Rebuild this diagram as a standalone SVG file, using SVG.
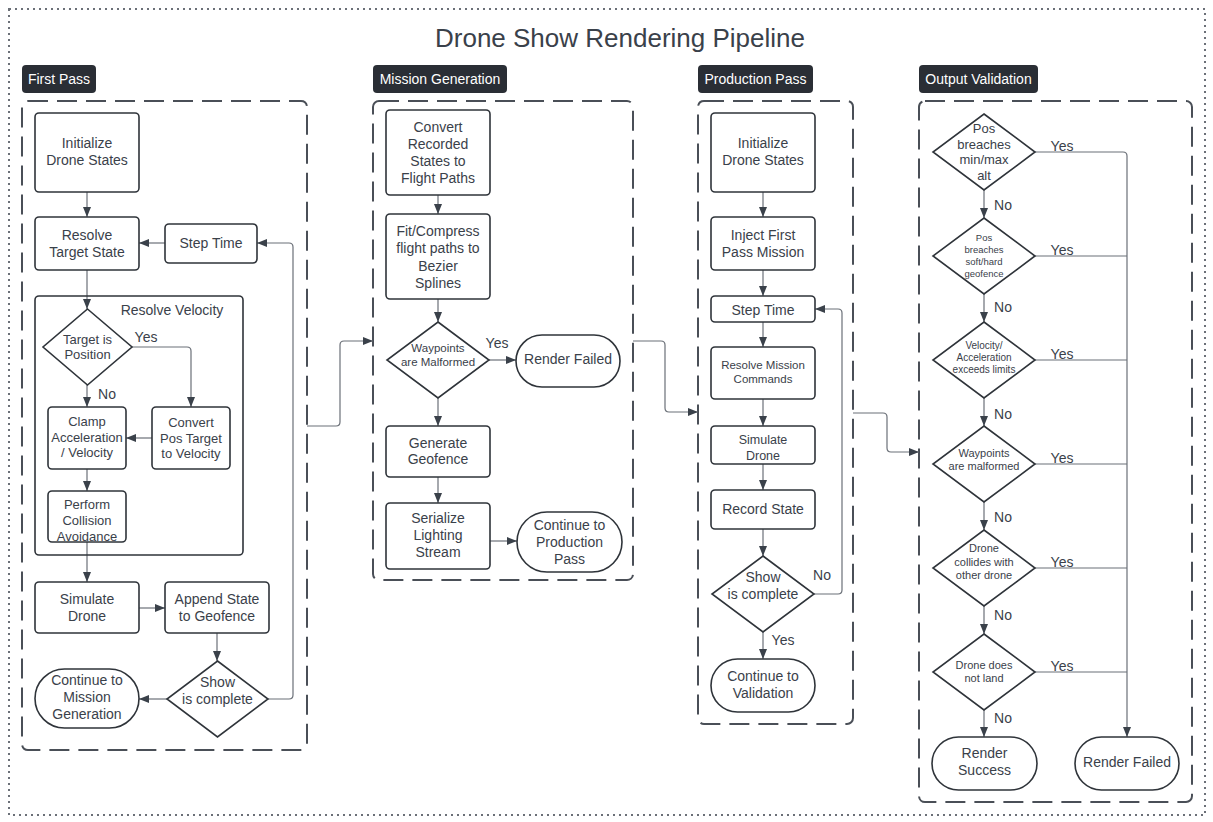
<svg xmlns="http://www.w3.org/2000/svg" width="1213" height="822" viewBox="0 0 1213 822">
<defs>
<marker id="arr" markerUnits="userSpaceOnUse" markerWidth="10" markerHeight="8" refX="10" refY="4" orient="auto">
<path d="M0,0 L10,4 L0,8 z" fill="#3a414a"/>
</marker>
<style>
text{font-family:"Liberation Sans",Arial,sans-serif;fill:#3a414a;text-anchor:middle;font-size:14px}
.n rect,.n polygon{fill:#fff;stroke:#2f343a;stroke-width:1.6}
.grp{fill:none;stroke:#4a4f57;stroke-width:2;stroke-dasharray:20 9}
.lbl rect{fill:#2a2e35}
.lbl text{fill:#fff;font-size:14px}
.c path{fill:none;stroke:#6b7078;stroke-width:1.2}
.c path.a{marker-end:url(#arr)}
.s13{font-size:13px}.s12{font-size:12.5px}.s11{font-size:11.5px}.s10{font-size:10px}.s9{font-size:9.5px}.s11b{font-size:11px}
</style>
</defs>
<rect width="1213" height="822" fill="#fff"/>
<rect x="9" y="9" width="1196" height="806" fill="none" stroke="#6b7078" stroke-width="2" stroke-dasharray="2 4"/>
<text x="620" y="47" style="font-size:26px">Drone Show Rendering Pipeline</text>

<!-- section labels -->
<g class="lbl" id="lbl-first"><rect x="22" y="65" width="74" height="28" rx="4"/><text x="59" y="84">First Pass</text></g>
<g class="lbl" id="lbl-mission"><rect x="373" y="65" width="134" height="28" rx="4"/><text x="440" y="84">Mission Generation</text></g>
<g class="lbl" id="lbl-production"><rect x="698" y="65" width="115" height="28" rx="4"/><text x="755.5" y="84">Production Pass</text></g>
<g class="lbl" id="lbl-output"><rect x="919" y="65" width="119" height="28" rx="4"/><text x="978.5" y="84">Output Validation</text></g>

<!-- containers -->
<rect id="grp-first" class="grp" x="22" y="101" width="285" height="649" rx="6"/>
<rect id="grp-mission" class="grp" x="373" y="101" width="260" height="479" rx="6"/>
<rect id="grp-production" class="grp" x="698" y="101" width="155" height="623" rx="6"/>
<rect id="grp-output" class="grp" x="919" y="101" width="273" height="701" rx="6"/>

<!-- connectors -->
<g class="c" id="connectors">
<path class="a" d="M87,192 V217"/>
<path class="a" d="M87,270 V309"/>
<path class="a" d="M165,243 H139"/>
<path class="a" d="M132,347 H187 Q191,347 191,351 V407"/>
<path class="a" d="M87,385 V407"/>
<path class="a" d="M152,438 H126"/>
<path class="a" d="M87,469 V491"/>
<path class="a" d="M87,542 V582"/>
<path class="a" d="M139,608 H165"/>
<path class="a" d="M217,633 V661"/>
<path class="a" d="M167,699 H139"/>
<path class="a" d="M268,699 H289 Q293,699 293,695 V247 Q293,243 289,243 H257"/>
<path class="a" d="M307,426 H336 Q340,426 340,422 V345 Q340,341 344,341 H373"/>

<path class="a" d="M438,195 V214"/>
<path class="a" d="M438,299 V322"/>
<path class="a" d="M489,360 H516"/>
<path class="a" d="M438,398 V426"/>
<path class="a" d="M438,477 V503"/>
<path class="a" d="M490,541 H517"/>
<path class="a" d="M633,341 H661 Q665,341 665,345 V408 Q665,412 669,412 H698"/>

<path class="a" d="M763,192 V217"/>
<path class="a" d="M763,270 V296"/>
<path class="a" d="M763,322 V347"/>
<path class="a" d="M763,399 V426"/>
<path class="a" d="M763,464 V490"/>
<path class="a" d="M763,529 V556"/>
<path class="a" d="M763,632 V659"/>
<path class="a" d="M814,594 H838 Q842,594 842,590 V313 Q842,309 838,309 H815"/>
<path class="a" d="M853,413 H883 Q887,413 887,417 V448 Q887,452 891,452 H919"/>

<path class="a" d="M984,190 V218"/>
<path class="a" d="M984,294 V322"/>
<path class="a" d="M984,398 V426"/>
<path class="a" d="M984,502 V530"/>
<path class="a" d="M984,606 V634"/>
<path class="a" d="M984,710 V737"/>
<path class="a" d="M1035,152 H1123 Q1127,152 1127,156 V737"/>
<path d="M1035,256 H1127"/>
<path d="M1035,360 H1127"/>
<path d="M1035,464 H1127"/>
<path d="M1035,568 H1127"/>
<path d="M1035,672 H1127"/>
</g>

<!-- connector labels -->
<g id="edge-labels">
<text x="146" y="342">Yes</text>
<text x="107" y="399">No</text>
<text x="497" y="348">Yes</text>
<text x="822" y="580">No</text>
<text x="783" y="645">Yes</text>
<text x="1003" y="210">No</text>
<text x="1003" y="312">No</text>
<text x="1003" y="419">No</text>
<text x="1003" y="522">No</text>
<text x="1003" y="620">No</text>
<text x="1003" y="723">No</text>
<text x="1062" y="151">Yes</text>
<text x="1062" y="255">Yes</text>
<text x="1062" y="359">Yes</text>
<text x="1062" y="463">Yes</text>
<text x="1062" y="567">Yes</text>
<text x="1062" y="671">Yes</text>
</g>

<!-- First Pass -->
<g class="n" id="fp-init"><rect x="35" y="113" width="104" height="79" rx="4"/><text x="87" y="148">Initialize</text><text x="87" y="165">Drone States</text></g>
<g class="n" id="fp-resolve-target"><rect x="35" y="217" width="104" height="53" rx="4"/><text x="87" y="240">Resolve</text><text x="87" y="257">Target State</text></g>
<g class="n" id="fp-step-time"><rect x="165" y="224" width="92" height="39" rx="4"/><text x="211" y="248">Step Time</text></g>
<g id="fp-resolve-velocity"><rect x="35" y="296" width="208" height="259" rx="4" fill="none" stroke="#2f343a" stroke-width="1.6"/><text x="172" y="315">Resolve Velocity</text></g>
<g class="n" id="fp-target-pos"><polygon points="87.5,309 132,347 87.5,385 43,347"/><text class="s13" x="87.5" y="343.5">Target is</text><text class="s13" x="87.5" y="358.5">Position</text></g>
<g class="n" id="fp-clamp"><rect x="48" y="407" width="78" height="62" rx="4"/><text class="s13" x="87" y="425.5">Clamp</text><text class="s13" x="87" y="441.5">Acceleration</text><text class="s13" x="87" y="456.5">/ Velocity</text></g>
<g class="n" id="fp-convert"><rect x="152" y="407" width="78" height="62" rx="4"/><text class="s13" x="191" y="426.5">Convert</text><text class="s13" x="191" y="442.5">Pos Target</text><text class="s13" x="191" y="457.5">to Velocity</text></g>
<g class="n" id="fp-collision"><rect x="48" y="491" width="78" height="51" rx="4"/><text class="s13" x="87" y="508.5">Perform</text><text class="s13" x="87" y="524.5">Collision</text><text class="s13" x="87" y="540.5">Avoidance</text></g>
<g class="n" id="fp-simulate"><rect x="35" y="582" width="104" height="51" rx="4"/><text x="87" y="604">Simulate</text><text x="87" y="621">Drone</text></g>
<g class="n" id="fp-append"><rect x="165" y="582" width="104" height="51" rx="4"/><text x="217" y="604">Append State</text><text x="217" y="621">to Geofence</text></g>
<g class="n" id="fp-show-complete"><polygon points="217.5,661 268,699 217.5,737 167,699"/><text x="217.5" y="687">Show</text><text x="217.5" y="704">is complete</text></g>
<g class="n" id="fp-continue"><rect x="35" y="669" width="104" height="59" rx="29.5"/><text x="87" y="685">Continue to</text><text x="87" y="702">Mission</text><text x="87" y="719">Generation</text></g>

<!-- Mission Generation -->
<g class="n" id="mg-convert"><rect x="386" y="110" width="104" height="85" rx="4"/><text x="438" y="132">Convert</text><text x="438" y="149">Recorded</text><text x="438" y="166">States to</text><text x="438" y="183">Flight Paths</text></g>
<g class="n" id="mg-fit"><rect x="386" y="214" width="104" height="85" rx="4"/><text x="438" y="236">Fit/Compress</text><text x="438" y="253">flight paths to</text><text x="438" y="271">Bezier</text><text x="438" y="288">Splines</text></g>
<g class="n" id="mg-waypoints"><polygon points="438,322 489,360 438,398 387,360"/><text class="s11" x="438" y="352">Waypoints</text><text class="s11" x="438" y="366">are Malformed</text></g>
<g class="n" id="mg-render-failed"><rect x="516" y="335" width="104" height="52" rx="26"/><text x="568" y="364">Render Failed</text></g>
<g class="n" id="mg-geofence"><rect x="386" y="426" width="104" height="51" rx="4"/><text x="438" y="448">Generate</text><text x="438" y="464">Geofence</text></g>
<g class="n" id="mg-serialize"><rect x="386" y="503" width="104" height="66" rx="4"/><text x="438" y="523">Serialize</text><text x="438" y="540">Lighting</text><text x="438" y="557">Stream</text></g>
<g class="n" id="mg-continue"><rect x="517" y="512" width="105" height="60" rx="30"/><text x="569.5" y="530">Continue to</text><text x="569.5" y="547">Production</text><text x="569.5" y="564">Pass</text></g>

<!-- Production Pass -->
<g class="n" id="pp-init"><rect x="711" y="113" width="104" height="79" rx="4"/><text x="763" y="148">Initialize</text><text x="763" y="165">Drone States</text></g>
<g class="n" id="pp-inject"><rect x="711" y="217" width="104" height="53" rx="4"/><text x="763" y="240">Inject First</text><text x="763" y="257">Pass Mission</text></g>
<g class="n" id="pp-step"><rect x="711" y="296" width="104" height="26" rx="4"/><text x="763" y="315">Step Time</text></g>
<g class="n" id="pp-resolve-cmd"><rect x="711" y="347" width="104" height="52" rx="4"/><text class="s11" x="763" y="369">Resolve Mission</text><text class="s11" x="763" y="383">Commands</text></g>
<g class="n" id="pp-simulate"><rect x="711" y="426" width="104" height="38" rx="4"/><text class="s12" x="763" y="443.5">Simulate</text><text class="s12" x="763" y="459.5">Drone</text></g>
<g class="n" id="pp-record"><rect x="711" y="490" width="104" height="39" rx="4"/><text x="763" y="514">Record State</text></g>
<g class="n" id="pp-show-complete"><polygon points="763,556 814,594 763,632 712,594"/><text x="763" y="582">Show</text><text x="763" y="599">is complete</text></g>
<g class="n" id="pp-continue"><rect x="711" y="659" width="104" height="53" rx="26.5"/><text x="763" y="681">Continue to</text><text x="763" y="698">Validation</text></g>

<!-- Output Validation -->
<g class="n" id="ov-alt"><polygon points="984,114 1035,152 984,190 933,152"/><text class="s13" x="984" y="133">Pos</text><text class="s13" x="984" y="148.5">breaches</text><text class="s13" x="984" y="164">min/max</text><text class="s13" x="984" y="179.5">alt</text></g>
<g class="n" id="ov-geofence"><polygon points="984,218 1035,256 984,294 933,256"/><text class="s9" x="984" y="240.5">Pos</text><text class="s9" x="984" y="252.5">breaches</text><text class="s9" x="984" y="264.5">soft/hard</text><text class="s9" x="984" y="276.5">geofence</text></g>
<g class="n" id="ov-velocity"><polygon points="984,322 1035,360 984,398 933,360"/><text class="s10" x="984" y="348.5">Velocity/</text><text class="s10" x="984" y="360.5">Acceleration</text><text class="s10" x="984" y="372.5">exceeds limits</text></g>
<g class="n" id="ov-waypoints"><polygon points="984,426 1035,464 984,502 933,464"/><text class="s11b" x="984" y="457">Waypoints</text><text class="s11b" x="984" y="470">are malformed</text></g>
<g class="n" id="ov-collides"><polygon points="984,530 1035,568 984,606 933,568"/><text class="s11b" x="984" y="552">Drone</text><text class="s11b" x="984" y="565.5">collides with</text><text class="s11b" x="984" y="579">other drone</text></g>
<g class="n" id="ov-land"><polygon points="984,634 1035,672 984,710 933,672"/><text class="s11b" x="984" y="669">Drone does</text><text class="s11b" x="984" y="682">not land</text></g>
<g class="n" id="ov-success"><rect x="932" y="737" width="105" height="53" rx="26.5"/><text x="984.5" y="758">Render</text><text x="984.5" y="775">Success</text></g>
<g class="n" id="ov-failed"><rect x="1075" y="737" width="104" height="53" rx="26.5"/><text x="1127" y="767">Render Failed</text></g>
</svg>
